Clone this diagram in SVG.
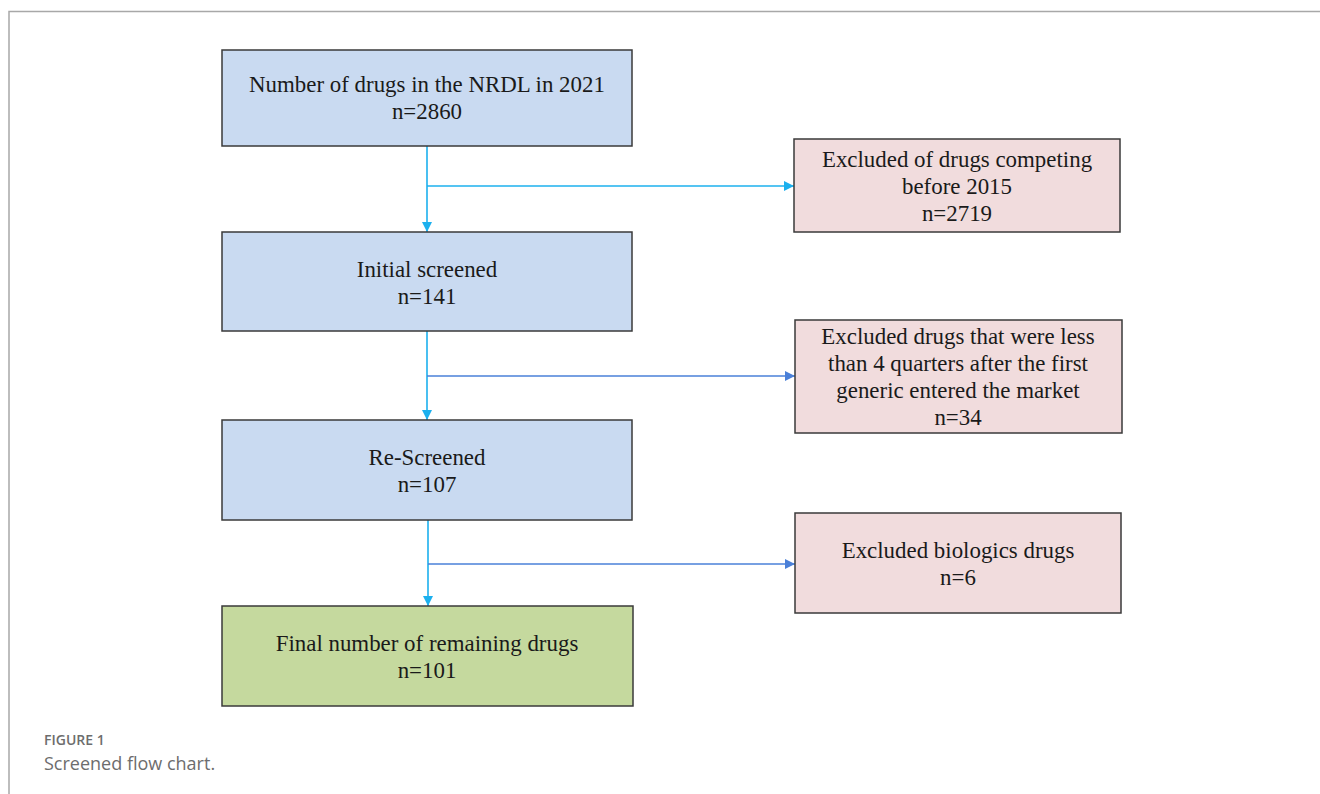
<svg xmlns="http://www.w3.org/2000/svg" width="1320" height="794" viewBox="0 0 1320 794">
<defs>
<style>
.box{stroke:#3a3a3a;stroke-width:1.5}
.blue{fill:#c9daf1}
.pink{fill:#f1dcdd}
.green{fill:#c5d99e}
.t{font-family:"Liberation Serif","Times New Roman",serif;font-size:22.9px;fill:#1a1a1a;text-anchor:middle}
.c1{stroke:#1cb0ee;stroke-width:1.6;fill:none}
.c2{stroke:#4a80d8;stroke-width:1.6;fill:none}
.cap1{font-family:"Open Sans","Liberation Sans",sans-serif;font-size:14px;font-weight:600;fill:#6d6d6d}
.cap2{font-family:"Open Sans","Liberation Sans",sans-serif;font-size:18px;fill:#6d6d6d}
</style>
<marker id="a1" viewBox="0 0 10 10" refX="10" refY="5" markerWidth="10" markerHeight="10" markerUnits="userSpaceOnUse" orient="auto"><path d="M0,0 L10,5 L0,10 Z" fill="#1cb0ee"/></marker>
<marker id="a2" viewBox="0 0 10 10" refX="10" refY="5" markerWidth="10" markerHeight="10" markerUnits="userSpaceOnUse" orient="auto"><path d="M0,0 L10,5 L0,10 Z" fill="#4a80d8"/></marker>
</defs>
<rect width="1320" height="794" fill="#ffffff"/>
<path d="M9,794 V11.5 H1320" fill="none" stroke="#a8a8a8" stroke-width="1.5"/>
<g id="connectors">
<path class="c1" d="M427,146 V232" marker-end="url(#a1)"/>
<path class="c1" d="M427,186 H794" marker-end="url(#a1)"/>
<path class="c1" d="M427,331 V420" marker-end="url(#a1)"/>
<path class="c2" d="M427,376 H795" marker-end="url(#a2)"/>
<path class="c1" d="M428,520 V606" marker-end="url(#a1)"/>
<path class="c2" d="M428,564 H795" marker-end="url(#a2)"/>
</g>
<g id="n1"><rect class="box blue" x="222" y="50" width="410" height="96"/>
<text class="t" x="427" y="92">Number of drugs in the NRDL in 2021</text>
<text class="t" x="427" y="119">n=2860</text></g>
<g id="n2"><rect class="box blue" x="222" y="232" width="410" height="99"/>
<text class="t" x="427" y="277">Initial screened</text>
<text class="t" x="427" y="304">n=141</text></g>
<g id="n3"><rect class="box blue" x="222" y="420" width="410" height="100"/>
<text class="t" x="427" y="465">Re-Screened</text>
<text class="t" x="427" y="492">n=107</text></g>
<g id="n4"><rect class="box green" x="222" y="606" width="411" height="100"/>
<text class="t" x="427" y="651">Final number of remaining drugs</text>
<text class="t" x="427" y="678">n=101</text></g>
<g id="e1"><rect class="box pink" x="794" y="139" width="326" height="93"/>
<text class="t" x="957" y="167">Excluded of drugs competing</text>
<text class="t" x="957" y="194">before 2015</text>
<text class="t" x="957" y="221">n=2719</text></g>
<g id="e2"><rect class="box pink" x="795" y="320" width="327" height="113"/>
<text class="t" x="958" y="344">Excluded drugs that were less</text>
<text class="t" x="958" y="371">than 4 quarters after the first</text>
<text class="t" x="958" y="398">generic entered the market</text>
<text class="t" x="958" y="425">n=34</text></g>
<g id="e3"><rect class="box pink" x="795" y="513" width="326" height="100"/>
<text class="t" x="958" y="558">Excluded biologics drugs</text>
<text class="t" x="958" y="585">n=6</text></g>
<text class="cap1" x="44" y="745">FIGURE 1</text>
<text class="cap2" x="44" y="770">Screened flow chart.</text>
</svg>
